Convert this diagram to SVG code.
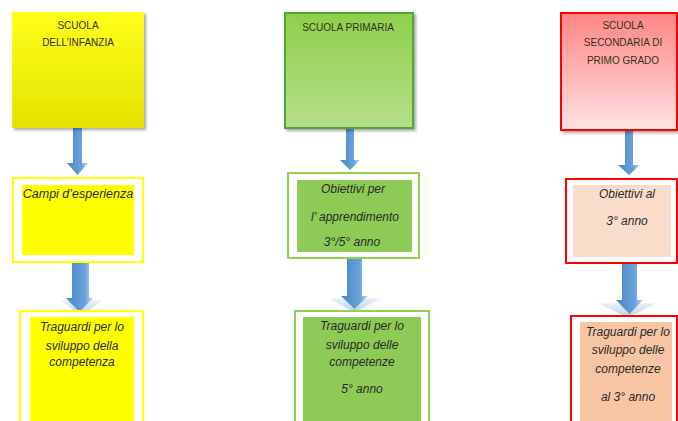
<svg xmlns="http://www.w3.org/2000/svg" width="678" height="421" viewBox="0 0 678 421">
<defs>
<linearGradient id="gY" x1="0" y1="0" x2="0" y2="1"><stop offset="0" stop-color="#ffff1a"/><stop offset="1" stop-color="#e3e300"/></linearGradient>
<linearGradient id="gG" x1="0" y1="0" x2="0" y2="1"><stop offset="0" stop-color="#8fcf4c"/><stop offset="1" stop-color="#b5df8a"/></linearGradient>
<linearGradient id="gR" x1="0" y1="0" x2="0" y2="1"><stop offset="0" stop-color="#ff8585"/><stop offset="1" stop-color="#ffe2e2"/></linearGradient>
<linearGradient id="gA" x1="0" y1="0" x2="1" y2="0"><stop offset="0" stop-color="#4a86c8"/><stop offset="0.7" stop-color="#6aa3db"/><stop offset="1" stop-color="#c9dcf0"/></linearGradient>
<linearGradient id="gC" x1="0" y1="0" x2="0" y2="1"><stop offset="0" stop-color="#e9f1fa"/><stop offset="1" stop-color="#b9cfe8"/></linearGradient>
<filter id="sh" x="-10%" y="-10%" width="125%" height="125%"><feDropShadow dx="2" dy="2" stdDeviation="1.5" flood-color="#000" flood-opacity="0.35"/></filter>
</defs>
<style>
.t{font-family:"Liberation Sans",Arial,sans-serif;font-size:10px;fill:#33331a;text-anchor:middle}
.i{font-family:"Liberation Sans",Arial,sans-serif;font-size:12px;font-style:italic;fill:#2a2a2a;text-anchor:middle}
.a{fill:url(#gA)}
.c{fill:url(#gC);stroke:#ffffff;stroke-width:0.8}
.oy{fill:#fff;stroke:#ffff00;stroke-width:2}
.og{fill:#fff;stroke:#92d050;stroke-width:2}
.or{fill:#fff;stroke:#ff0000;stroke-width:2}
</style>
<g id="connectors">
<polygon class="a" points="73,128 82,128 82,163 88,163 77.5,175 67,163 73,163"/>
<polygon class="c" points="60,300 103,300 81.5,317"/>
<polygon class="a" points="72,262 89,262 89,298 93,298 79.5,312 66,298 72,298"/>
<polygon class="a" points="346,128 354,128 354,160 360,160 350,170 340,160 346,160"/>
<polygon class="c" points="327,298 382,298 354.5,313"/>
<polygon class="a" points="347,258 362,258 362,296 368,296 354.5,309 341,296 347,296"/>
<polygon class="a" points="625,130 633,130 633,165 640,165 629,175 618,165 625,165"/>
<polygon class="c" points="597,303 658,303 627.5,318"/>
<polygon class="a" points="622,263 637,263 637,300 643,300 629.5,314 616,300 622,300"/>
</g>
<g id="infanzia">
<rect x="12" y="12" width="132" height="116" fill="url(#gY)" filter="url(#sh)"/>
<text class="t" x="78" y="29">SCUOLA</text>
<text class="t" x="78" y="46">DELL’INFANZIA</text>
</g>
<g id="campi">
<rect class="oy" x="13" y="178" width="130" height="84"/>
<rect x="22" y="185" width="112" height="70" fill="#ffff00"/>
<text class="i" x="78" y="198" style="font-size:12.5px">Campi d’esperienza</text>
</g>
<g id="traguardi-infanzia">
<rect class="oy" x="20" y="311" width="123" height="120"/>
<rect x="30" y="317" width="104" height="110" fill="#ffff00"/>
<text class="i" x="82" y="331">Traguardi per lo</text>
<text class="i" x="82" y="350">sviluppo della</text>
<text class="i" x="82" y="366">competenza</text>
</g>
<g id="primaria">
<rect x="285" y="13" width="128" height="115" fill="url(#gG)" stroke="#4fa832" stroke-width="2" filter="url(#sh)"/>
<text class="t" x="348" y="31">SCUOLA PRIMARIA</text>
</g>
<g id="obiettivi-primaria">
<rect class="og" x="288" y="173" width="131" height="85"/>
<rect x="297" y="180" width="115" height="72" fill="#8ecb56"/>
<text class="i" x="353" y="193">Obiettivi per</text>
<text class="i" x="355" y="221">l’ apprendimento</text>
<text class="i" x="352" y="246">3°/5° anno</text>
</g>
<g id="traguardi-primaria">
<rect class="og" x="295" y="311" width="134" height="120"/>
<rect x="303" y="317" width="118" height="110" fill="#8ecb56"/>
<text class="i" x="362" y="330">Traguardi per lo</text>
<text class="i" x="362" y="349">sviluppo delle</text>
<text class="i" x="362" y="366">competenze</text>
<text class="i" x="362" y="393">5° anno</text>
</g>
<g id="secondaria">
<rect x="561" y="13" width="116" height="117" fill="url(#gR)" stroke="#ff0000" stroke-width="2" filter="url(#sh)"/>
<text class="t" x="623" y="29">SCUOLA</text>
<text class="t" x="623" y="46">SECONDARIA DI</text>
<text class="t" x="623" y="64">PRIMO GRADO</text>
</g>
<g id="obiettivi-secondaria">
<rect class="or" x="566" y="179" width="111" height="84"/>
<rect x="573" y="185" width="98" height="72" fill="#fadccb"/>
<text class="i" x="627" y="198">Obiettivi al</text>
<text class="i" x="627" y="225">3° anno</text>
</g>
<g id="traguardi-secondaria">
<rect class="or" x="571" y="316" width="106" height="112"/>
<rect x="580" y="322" width="92" height="105" fill="#f7c5a3"/>
<text class="i" x="628" y="336">Traguardi per lo</text>
<text class="i" x="628" y="354">sviluppo delle</text>
<text class="i" x="628" y="373">competenze</text>
<text class="i" x="628" y="401">al 3° anno</text>
</g>
</svg>
